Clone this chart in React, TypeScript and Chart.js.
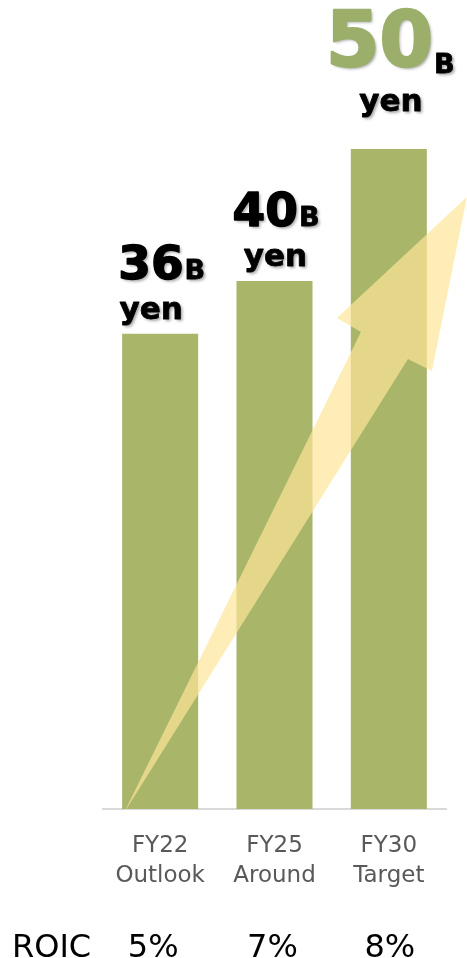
import React, { useEffect, useRef } from "react";
import { Chart, registerables } from "chart.js";

Chart.register(...registerables);

const CATEGORIES: string[][] = [["FY22", "Outlook"], ["FY25", "Around"], ["FY30", "Target"]];
const PROFIT: number[] = [36, 40, 50];
const UNIT_BIG = "B";
const UNIT_SMALL = "yen";
const ROIC_LABEL = "ROIC";
const ROIC: string[] = ["5%", "7%", "8%"];
const Y_MAX = 60;

// arrow outline in data space: [category index, value]
const ARROW_X: number[] = [-0.317, 1.756, 1.546, 2.683, 2.377, 2.167];
const ARROW_Y: number[] = [-0.3, 36.14, 37.2, 46.36, 33.18, 34.09];

// small horizontal nudges (px) of text relative to each category centre
const YEN_NUDGE: number[] = [-9, 1, 2];
const ROIC_NUDGE: number[] = [-7, -2, 1];

const FONT = '"DejaVu Sans", Verdana, sans-serif';

const arrowPlugin = {
  id: "growthArrow",
  afterDatasetsDraw(chart: any) {
    const { ctx, scales } = chart;
    const xs = scales.x;
    const ys = scales.y;
    ctx.save();
    ctx.beginPath();
    ARROW_X.forEach((v, i) => {
      const px = xs.getPixelForValue(v);
      const py = ys.getPixelForValue(ARROW_Y[i]);
      if (i === 0) ctx.moveTo(px, py);
      else ctx.lineTo(px, py);
    });
    ctx.closePath();
    ctx.fillStyle = "rgba(255,229,152,0.7)";
    ctx.fill();
    ctx.restore();
  },
};

function heavyText(ctx: any, text: string, x: number, y: number, color: string, stroke: number) {
  ctx.fillStyle = color;
  ctx.fillText(text, x, y);
  if (stroke > 0) {
    ctx.save();
    ctx.shadowColor = "rgba(0,0,0,0)";
    ctx.lineWidth = stroke;
    ctx.lineJoin = "round";
    ctx.strokeStyle = color;
    ctx.strokeText(text, x, y);
    ctx.restore();
  }
}

const labelPlugin = {
  id: "valueLabels",
  afterDraw(chart: any) {
    const { ctx, scales } = chart;
    const meta = chart.getDatasetMeta(0);
    meta.data.forEach((bar: any, i: number) => {
      const hi = i === PROFIT.length - 1;
      const cx = bar.x;
      const top = bar.y;
      const numText = String(PROFIT[i]);
      const numFont = hi ? `bold 77px ${FONT}` : `bold 47px ${FONT}`;
      const bFont = `bold 27px ${FONT}`;
      const yenFont = `bold 31px ${FONT}`;
      const numBase = hi ? top - 83 : top - 55;
      const bBase = hi ? numBase + 7 : numBase;
      const yenBase = hi ? top - 38 : top - 15;
      ctx.save();
      ctx.shadowColor = "rgba(0,0,0,0.35)";
      ctx.shadowOffsetX = 2;
      ctx.shadowOffsetY = 2;
      ctx.shadowBlur = 3;
      ctx.textBaseline = "alphabetic";
      ctx.textAlign = "left";
      ctx.font = numFont;
      const nw = ctx.measureText(numText).width;
      ctx.font = bFont;
      const bw = ctx.measureText(UNIT_BIG).width;
      const startX = cx - (nw + bw) / 2 + 1;
      ctx.font = numFont;
      heavyText(ctx, numText, startX, numBase, hi ? "#9BAF6B" : "#000000", hi ? 2.5 : 1.5);
      ctx.font = bFont;
      heavyText(ctx, UNIT_BIG, startX + nw + 1, bBase, "#000000", 0.8);
      ctx.font = yenFont;
      ctx.textAlign = "center";
      heavyText(ctx, UNIT_SMALL, cx + YEN_NUDGE[i], yenBase, "#000000", 0.8);
      ctx.restore();
    });

    // ROIC row
    ctx.save();
    ctx.font = `32px ${FONT}`;
    ctx.fillStyle = "#000000";
    ctx.textBaseline = "alphabetic";
    ctx.textAlign = "left";
    const rowBase = chart.height - 1;
    ctx.fillText(ROIC_LABEL, 12, rowBase);
    ctx.textAlign = "center";
    ROIC.forEach((t, i) => {
      ctx.fillText(t, scales.x.getPixelForValue(i) + ROIC_NUDGE[i], rowBase);
    });
    ctx.restore();
  },
};

export default function App() {
  const ref = useRef<HTMLCanvasElement | null>(null);
  useEffect(() => {
    if (!ref.current) return;
    const chart = new Chart(ref.current, {
      type: "bar",
      data: {
        labels: CATEGORIES,
        datasets: [
          {
            data: PROFIT,
            backgroundColor: "#A9B66A",
            borderWidth: 0,
            categoryPercentage: 1,
            barPercentage: 0.665,
          },
        ],
      },
      options: {
        responsive: false,
        animation: false,
        layout: { padding: { top: 17, left: 103, right: 21, bottom: 0 } },
        plugins: {
          legend: { display: false },
          tooltip: { enabled: false },
          title: { display: false },
        },
        scales: {
          x: {
            grid: { display: false, drawTicks: false },
            border: { display: true, color: "#D9D9D9", width: 2 },
            ticks: {
              color: "#595959",
              font: { family: FONT, size: 23, lineHeight: 1.3 },
              padding: 22,
              maxRotation: 0,
              autoSkip: false,
            },
            afterFit(scale: any) {
              scale.height = 149;
            },
          },
          y: {
            display: false,
            min: 0,
            max: Y_MAX,
          },
        },
      },
      plugins: [arrowPlugin, labelPlugin],
    });
    return () => chart.destroy();
  }, []);
  return (
    <div style={{ position: "absolute", left: 0, top: 0, width: 467, height: 958, background: "#fff" }}>
      <canvas ref={ref} width={467} height={958} style={{ display: "block" }} />
    </div>
  );
}
